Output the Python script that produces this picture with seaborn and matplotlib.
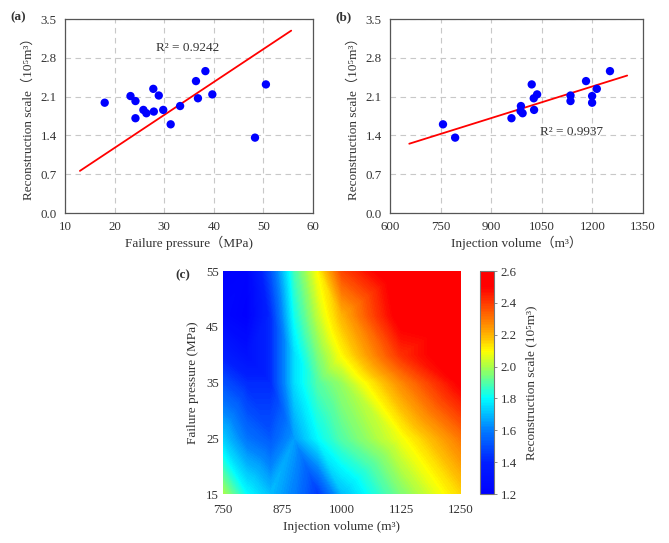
import numpy as np
import seaborn as sns
import matplotlib.pyplot as plt
import matplotlib.tri as mtri
from matplotlib.colors import LinearSegmentedColormap

# (a) failure pressure vs reconstruction scale
pressure_a = [18.0, 23.2, 24.2, 24.2, 25.8, 26.4, 27.8, 27.9, 28.9, 29.8,
              31.3, 33.2, 36.4, 36.8, 38.3, 39.7, 48.3, 50.5]
scale_a = [1.99, 2.11, 2.02, 1.71, 1.86, 1.80, 2.24, 1.83, 2.12, 1.86,
           1.60, 1.93, 2.38, 2.07, 2.56, 2.14, 1.36, 2.32]
fit_a_x = [13.0, 55.6]
fit_a_y = [0.76, 3.29]

# (b) injection volume vs reconstruction scale
volume_b = [757, 793, 960, 988, 987, 993, 1020, 1026, 1027, 1036,
            1135, 1135, 1181, 1199, 1199, 1213, 1252]
scale_b = [1.60, 1.36, 1.71, 1.93, 1.84, 1.80, 2.32, 2.07, 1.86, 2.14,
           2.12, 2.02, 2.38, 2.11, 1.99, 2.24, 2.56]
fit_b_x = [657, 1303]
fit_b_y = [1.25, 2.48]

# (c) reconstruction scale over injection volume x failure pressure
grid_volume = [750, 800, 850, 900, 950, 1000, 1125, 1250]
grid_pressure = [15, 25, 35, 40, 47, 55]
grid_scale = [
    [2.00, 1.80, 1.70, 1.60, 1.45, 1.70, 1.95, 2.15],
    [1.72, 1.58, 1.52, 1.65, 1.80, 1.90, 2.08, 2.30],
    [1.50, 1.42, 1.42, 1.75, 1.90, 1.98, 2.27, 2.52],
    [1.38, 1.30, 1.42, 1.75, 1.95, 2.10, 2.42, 2.60],
    [1.24, 1.20, 1.42, 1.82, 2.03, 2.20, 2.55, 2.60],
    [1.20, 1.22, 1.50, 1.88, 2.10, 2.38, 2.60, 2.60],
]

sns.set_style('white')
plt.rcParams['font.family'] = ['Liberation Serif', 'DejaVu Serif', 'Noto Sans CJK SC']
plt.rcParams['font.size'] = 9.5
plt.rcParams['xtick.labelsize'] = 9.3
plt.rcParams['ytick.labelsize'] = 9.3
plt.rcParams['text.color'] = '#333333'
plt.rcParams['axes.labelcolor'] = '#333333'
plt.rcParams['xtick.color'] = '#333333'
plt.rcParams['ytick.color'] = '#333333'

fig = plt.figure(figsize=(6.69, 5.43), dpi=100)


def style_scatter_axes(ax):
    ax.grid(True, color='#c8c8c8', linestyle=(0, (5, 4)), linewidth=0.8)
    ax.set_axisbelow(True)
    for sp in ax.spines.values():
        sp.set_color('#555555')
        sp.set_linewidth(0.9)
    ax.tick_params(length=0, pad=6)
    ax.set_ylim(0, 3.5)
    ax.set_yticks(np.arange(0, 3.51, 0.7))
    ax.set_yticklabels([f'{v:.1f}' for v in np.arange(0, 3.51, 0.7)])
    ax.set_ylabel('Reconstruction scale（10⁵m³）', labelpad=4)


# panel (a)
ax_a = fig.add_axes([0.0972, 0.6077, 0.3707, 0.3573])
sns.lineplot(x=fit_a_x, y=fit_a_y, ax=ax_a, color='red', linewidth=1.3)
sns.scatterplot(x=pressure_a, y=scale_a, ax=ax_a, color='blue', s=36,
                edgecolor='none', zorder=3)
ax_a.set_xlim(10, 60)
ax_a.set_xticks([10, 20, 30, 40, 50, 60])
style_scatter_axes(ax_a)
ax_a.set_xlabel('Failure pressure（MPa)', labelpad=2)
ax_a.text(34.8, 2.98, 'R² = 0.9242', ha='center', va='center')
fig.text(0.016, 0.963, '(a)', fontweight='bold', fontsize=9.5)

# panel (b)
ax_b = fig.add_axes([0.5830, 0.6077, 0.3782, 0.3573])
sns.lineplot(x=fit_b_x, y=fit_b_y, ax=ax_b, color='red', linewidth=1.3)
sns.scatterplot(x=volume_b, y=scale_b, ax=ax_b, color='blue', s=36,
                edgecolor='none', zorder=3)
ax_b.set_xlim(600, 1350)
ax_b.set_xticks([600, 750, 900, 1050, 1200, 1350])
style_scatter_axes(ax_b)
ax_b.set_xlabel('Injection volume（m³）', labelpad=2)
ax_b.text(1138, 1.47, 'R² = 0.9937', ha='center', va='center')
fig.text(0.502, 0.963, '(b)', fontweight='bold', fontsize=9.5)

# panel (c)
cmap = LinearSegmentedColormap.from_list('recon', [
    (0.0, (0.0, 0.0, 1.0)),
    (0.14, (0.0, 0.12, 1.0)),
    (0.29, (0.0, 0.5, 1.0)),
    (0.43, (0.0, 1.0, 1.0)),
    (0.57, (0.65, 1.0, 0.3)),
    (0.64, (1.0, 1.0, 0.0)),
    (0.71, (1.0, 0.72, 0.0)),
    (0.86, (1.0, 0.22, 0.0)),
    (0.93, (1.0, 0.0, 0.0)),
    (1.0, (1.0, 0.0, 0.0)),
])
gx, gy = np.meshgrid(grid_volume, grid_pressure)
tri = mtri.Triangulation(gx.ravel(), gy.ravel())
ax_c = fig.add_axes([0.3333, 0.0902, 0.3558, 0.4107])
field = ax_c.tricontourf(tri, np.array(grid_scale).ravel(),
                         levels=np.linspace(1.2, 2.6, 141), cmap=cmap,
                         vmin=1.2, vmax=2.6)
ax_c.set_xlim(750, 1250)
ax_c.set_ylim(15, 55)
ax_c.set_xticks([750, 875, 1000, 1125, 1250])
ax_c.set_yticks([15, 25, 35, 45, 55])
ax_c.tick_params(axis='x', length=0, pad=7)
ax_c.tick_params(axis='y', length=0, pad=3)
for sp in ax_c.spines.values():
    sp.set_visible(False)
ax_c.set_xlabel('Injection volume (m³)', labelpad=4)
ax_c.set_ylabel('Failure pressure (MPa)', labelpad=5)
fig.text(0.262, 0.488, '(c)', fontweight='bold', fontsize=9.5)

cax = fig.add_axes([0.7175, 0.0902, 0.0209, 0.4107])
cb = fig.colorbar(field, cax=cax, ticks=np.arange(1.2, 2.61, 0.2))
cb.ax.set_ylim(1.2, 2.6)
cb.ax.set_yticklabels([f'{v:.1f}' for v in np.arange(1.2, 2.61, 0.2)])
cb.outline.set_edgecolor('#777777')
cb.outline.set_linewidth(0.8)
cb.ax.tick_params(length=2, width=0.6, color='#777777', pad=3)
cb.set_label('Reconstruction scale (10⁵m³)', labelpad=6)

fig.savefig('out.png', dpi=100)
